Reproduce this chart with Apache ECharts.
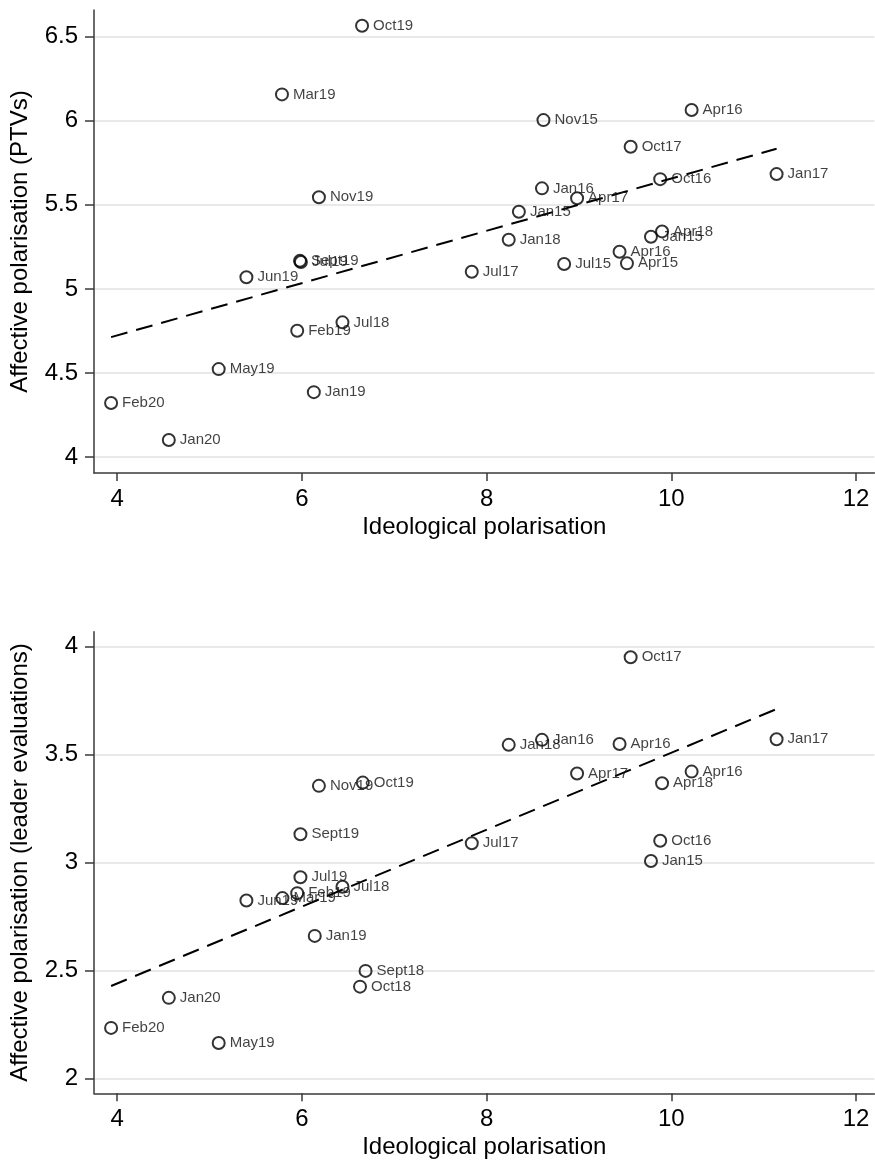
<!DOCTYPE html>
<html>
<head>
<meta charset="utf-8">
<script src="https://cdn.jsdelivr.net/npm/echarts@6/dist/echarts.min.js"></script>
<style>
html,body{margin:0;padding:0;background:#fff;}
#c{width:875px;height:1162px;}
</style>
</head>
<body>
<div id="c"></div>
<script>
// ---- Data ----
const labelsTop = ['Oct19','Mar19','Nov15','Apr16','Oct17','Jan17','Oct16','Jan16','Nov19','Apr17','Jan15','Jan18','Apr18','Jan15','Apr16','Apr15','Jul15','Jul17','Sept19','Jul19','Jun19','Feb19','Jul18','May19','Jan19','Feb20','Jan20'];
const ideoTop   = [6.652,5.785,8.616,10.22,9.56,11.14,9.88,8.60,6.185,8.98,8.35,8.24,9.90,9.78,9.44,9.52,8.84,7.84,5.98,5.99,5.40,5.95,6.44,5.10,6.13,3.935,4.56];
const ptvTop    = [6.565,6.157,6.004,6.064,5.846,5.683,5.653,5.598,5.545,5.539,5.459,5.292,5.342,5.310,5.221,5.152,5.148,5.102,5.167,5.160,5.069,4.751,4.801,4.523,4.386,4.321,4.101];
const fitTopX   = [3.935, 11.14];
const fitTopY   = [4.713, 5.834];

const labelsBot = ['Oct17','Jan17','Jan18','Jan16','Apr16','Apr17','Apr16','Apr18','Nov19','Oct19','Sept19','Jul17','Oct16','Jan15','Jul19','Jul18','Feb19','Mar19','Jun19','Jan19','Sept18','Oct18','Jan20','Feb20','May19'];
const ideoBot   = [9.56,11.14,8.24,8.60,9.44,8.98,10.22,9.90,6.185,6.66,5.985,7.84,9.88,9.78,5.985,6.44,5.95,5.79,5.40,6.14,6.69,6.63,4.56,3.935,5.10];
const leadBot   = [3.951,3.571,3.545,3.568,3.549,3.412,3.421,3.367,3.355,3.370,3.131,3.089,3.101,3.007,2.932,2.888,2.858,2.835,2.824,2.660,2.498,2.425,2.373,2.234,2.164];
const fitBotX   = [3.935, 11.14];
const fitBotY   = [2.428, 3.711];

const xTicks     = [4, 6, 8, 10, 12];
const yTicksTop  = [4, 4.5, 5, 5.5, 6, 6.5];
const yTicksBot  = [2, 2.5, 3, 3.5, 4];

const xTitle    = 'Ideological polarisation';
const yTitleTop = 'Affective polarisation (PTVs)';
const yTitleBot = 'Affective polarisation (leader evaluations)';

// ---- Chart ----
const FONT = '"Liberation Sans", Arial, Helvetica, sans-serif';
const axisCol = '#3a3a3a';

function xAxis(gi) {
  return {
    type: 'value', gridIndex: gi, min: 3.75, max: 12.2,
    name: xTitle, nameLocation: 'middle', nameGap: 42,
    nameTextStyle: {fontFamily: FONT, fontSize: 24, color: '#000'},
    axisLine: {show: true, onZero: false, lineStyle: {color: axisCol, width: 1.5}},
    axisTick: {show: true, length: 8, customValues: xTicks, lineStyle: {color: axisCol, width: 1.5}},
    axisLabel: {customValues: xTicks, fontFamily: FONT, fontSize: 24, color: '#000', margin: 14},
    splitLine: {show: false}
  };
}
function yAxis(gi, mn, mx, ticks, title) {
  return {
    type: 'value', gridIndex: gi, min: mn, max: mx,
    name: title, nameLocation: 'middle', nameGap: 62,
    nameTextStyle: {fontFamily: FONT, fontSize: 24, color: '#000'},
    axisLine: {show: true, onZero: false, lineStyle: {color: axisCol, width: 1.5}},
    axisTick: {show: true, length: 9, customValues: ticks, lineStyle: {color: axisCol, width: 1.5}},
    axisLabel: {customValues: ticks, fontFamily: FONT, fontSize: 24, color: '#000', margin: 16},
    splitLine: {show: true, lineStyle: {color: '#e2e2e2', width: 1.5}}
  };
}
function pts(xs, ys, labs) {
  return xs.map((x, i) => ({value: [x, ys[i]], name: labs[i]}));
}
function scatter(gi, xs, ys, labs) {
  return {
    type: 'scatter', xAxisIndex: gi, yAxisIndex: gi,
    data: pts(xs, ys, labs),
    symbol: 'circle', symbolSize: 12,
    itemStyle: {color: 'rgba(0,0,0,0)', borderColor: '#000', borderWidth: 2},
    label: {show: true, position: 'right', distance: 4, formatter: p => p.name,
            fontFamily: FONT, fontSize: 15, color: '#111'},
    z: 3
  };
}
function fit(gi, xs, ys) {
  return {
    type: 'line', xAxisIndex: gi, yAxisIndex: gi,
    data: xs.map((x, i) => [x, ys[i]]),
    symbol: 'none', silent: true,
    lineStyle: {color: '#000', width: 2, type: [17, 9]},
    z: 2
  };
}

const chart = echarts.init(document.getElementById('c'), null, {renderer: 'canvas'});
chart.setOption({
  animation: false,
  backgroundColor: '#fff',
  grid: [
    {left: 93, top: 10, width: 781.5, height: 463},
    {left: 93, top: 631.7, width: 781.5, height: 461.6}
  ],
  xAxis: [xAxis(0), xAxis(1)],
  yAxis: [
    yAxis(0, 3.905, 6.659, yTicksTop, yTitleTop),
    yAxis(1, 1.931, 4.069, yTicksBot, yTitleBot)
  ],
  series: [
    fit(0, fitTopX, fitTopY),
    scatter(0, ideoTop, ptvTop, labelsTop),
    fit(1, fitBotX, fitBotY),
    scatter(1, ideoBot, leadBot, labelsBot)
  ]
});
</script>
</body>
</html>
